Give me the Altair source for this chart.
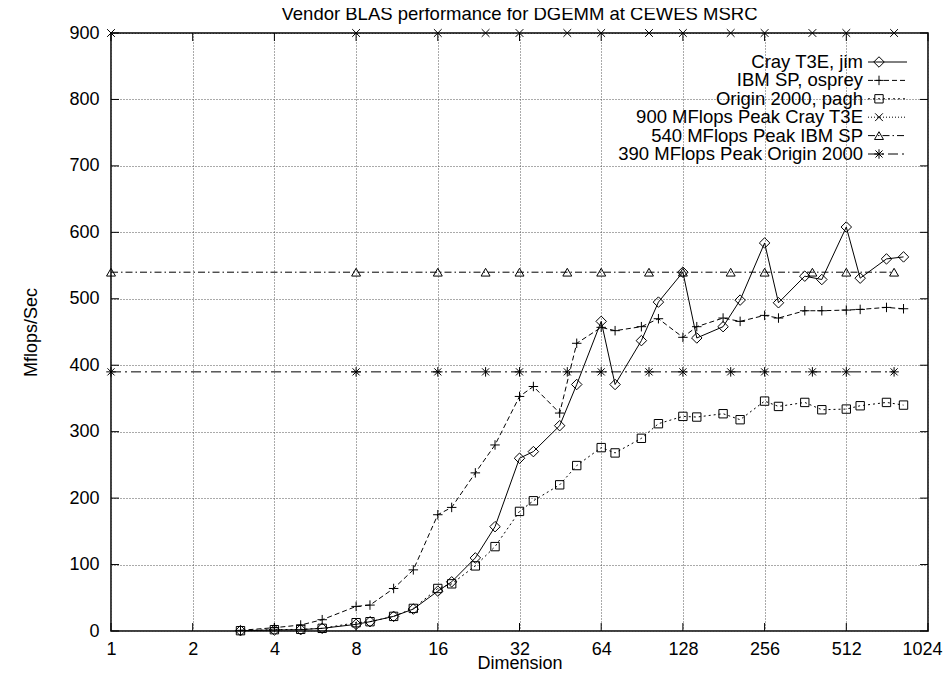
import altair as alt
import pandas as pd

FONT = "Liberation Sans"

# ---------------- data ----------------
dims = [3, 4, 5, 6, 8, 9, 11, 13, 16, 18, 22, 26, 32, 36, 45, 52, 64, 72, 90, 104,
        128, 144, 180, 208, 256, 288, 360, 416, 512, 576, 720, 832]
cray = [0.5, 1.5, 2, 4, 10, 14, 22, 33, 60, 74, 110, 157, 260, 270, 309, 371, 466, 371, 437, 495,
        540, 441, 458, 498, 584, 494, 534, 529, 608, 531, 560, 563]
ibm = [1, 5, 9, 17, 37, 39, 64, 92, 175, 186, 238, 280, 353, 368, 328, 433, 457, 452, 458, 470,
       442, 458, 471, 466, 475, 471, 482, 482, 483, 484, 487, 485]
origin = [0.5, 2, 2.5, 4, 12.5, 14, 22, 34, 64, 71, 98, 127, 180, 196, 220, 249, 276, 268, 290, 312,
          323, 322, 327, 318, 346, 338, 344, 333, 334, 339, 344, 340]
peak_dims = [1, 8, 16, 24, 32, 48, 64, 96, 128, 192, 256, 384, 512, 768]
peak_cray = [900] * len(peak_dims)
peak_ibm = [540] * len(peak_dims)
peak_origin = [390] * len(peak_dims)

x_ticks = [1, 2, 4, 8, 16, 32, 64, 128, 256, 512, 1024]
y_ticks = [0, 100, 200, 300, 400, 500, 600, 700, 800, 900]

W, H = 817, 598

PLUS = "M-1,0L1,0M0,-1L0,1"
CROSS = "M-1,-1L1,1M-1,1L1,-1"
STAR = "M-1,0L1,0M0,-1L0,1M-0.75,-0.75L0.75,0.75M-0.75,0.75L0.75,-0.75"

series = [
    ("Cray T3E, jim", dims, cray, None, "diamond", 110),
    ("IBM SP, osprey", dims, ibm, [5, 3], PLUS, 90),
    ("Origin 2000, pagh", dims, origin, [2, 3], "square", 70),
    ("900 MFlops Peak Cray T3E", peak_dims, peak_cray, [1, 2], CROSS, 60),
    ("540 MFlops Peak IBM SP", peak_dims, peak_ibm, [7, 3, 1.5, 3], "triangle-up", 80),
    ("390 MFlops Peak Origin 2000", peak_dims, peak_origin, [10, 4, 2, 4], STAR, 90),
]

xscale = alt.Scale(type="log", base=2, domain=[1, 1024], nice=False)
yscale = alt.Scale(domain=[0, 900], nice=False, zero=False)

x_axis = alt.Axis(values=x_ticks, format="d", grid=True, gridDash=[1, 2], gridColor="#555",
                  gridWidth=1, ticks=False, tickSize=0, domain=False, labelPadding=9, labelFontSize=18,
                  labelFont=FONT, labelColor="black", labelFlush=False, labelOverlap=False,
                  labelAlign={"condition": {"test": "datum.value >= 1024", "value": "right"},
                              "value": "center"},
                  labelOffset={"condition": {"test": "datum.value >= 1024", "value": 14},
                               "value": 0},
                  title="Dimension", titleFont=FONT, titleFontSize=18, titleFontWeight="normal",
                  titleColor="black", titleBaseline="alphabetic", titlePadding=10.5)
y_axis = alt.Axis(values=y_ticks, format="d", grid=True, gridDash=[1, 2], gridColor="#555",
                  gridWidth=1, ticks=False, tickSize=0, domain=False, labelPadding=12, labelFontSize=18,
                  labelFont=FONT, labelColor="black", labelFlush=False, labelOverlap=False,
                  title="Mflops/Sec", titleFont=FONT, titleFontSize=18, titleFontWeight="normal",
                  titleColor="black", titlePadding=28)

X = lambda f: alt.X(f, scale=xscale, axis=x_axis)
Y = lambda f: alt.Y(f, scale=yscale, axis=y_axis)

layers = []

# inward ticks (gnuplot style, mirrored)
xt = pd.DataFrame({"x": x_ticks})
yt = pd.DataFrame({"y": y_ticks})
tk = dict(color="black", strokeWidth=1)
layers.append(alt.Chart(xt).mark_rule(**tk).encode(
    x=X("x:Q"), y=alt.value(H), y2=alt.value(H - 8)))
layers.append(alt.Chart(xt).mark_rule(**tk).encode(
    x=X("x:Q"), y=alt.value(0), y2=alt.value(8)))
layers.append(alt.Chart(yt).mark_rule(**tk).encode(
    y=Y("y:Q"), x=alt.value(0), x2=alt.value(8)))
layers.append(alt.Chart(yt).mark_rule(**tk).encode(
    y=Y("y:Q"), x=alt.value(W), x2=alt.value(W - 8)))

# series
for name, xs, ys, dash, shape, size in series:
    df = pd.DataFrame({"dim": xs, "mflops": ys, "series": name})
    line_kw = dict(color="black", strokeWidth=1, clip=True)
    if dash:
        line_kw["strokeDash"] = dash
    enc = dict(x=X("dim:Q"), y=Y("mflops:Q"))
    layers.append(alt.Chart(df).mark_line(**line_kw).encode(**enc))
    layers.append(alt.Chart(df).mark_point(shape=shape, size=size, filled=False,
                                           color="black", strokeWidth=1, opacity=1).encode(**enc))

# legend (gnuplot key, top right inside plot)
row0, row_step = 29, 18.4
text_right, samp_l, samp_r, samp_pt = 752, 757, 796, 768
for i, (name, xs, ys, dash, shape, size) in enumerate(series):
    yy = row0 + i * row_step
    ldf = pd.DataFrame({"label": [name]})
    layers.append(alt.Chart(ldf).mark_text(align="right", baseline="middle", font=FONT,
                                           fontSize=18.5, color="black").encode(
        text="label:N", x=alt.value(text_right), y=alt.value(yy)))
    rk = dict(color="black", strokeWidth=1)
    if dash:
        rk["strokeDash"] = dash
    layers.append(alt.Chart(ldf).mark_rule(**rk).encode(
        x=alt.value(samp_l), x2=alt.value(samp_r), y=alt.value(yy)))
    layers.append(alt.Chart(ldf).mark_point(shape=shape, size=size, filled=False, color="black",
                                            strokeWidth=1, opacity=1).encode(
        x=alt.value(samp_pt), y=alt.value(yy)))

chart = alt.layer(*layers).properties(
    width=W, height=H,
    background="white",
    title=alt.TitleParams("Vendor BLAS performance for DGEMM at CEWES MSRC", font=FONT,
                          fontSize=18.5, fontWeight="normal", color="black", anchor="middle",
                          offset=1),
    autosize=alt.AutoSizeParams(type="none"),
    padding={"left": 103, "top": 25, "right": 15, "bottom": 40},
).configure_view(stroke="black", strokeWidth=1.5)

chart.save("out.html", embed_options={"renderer": "svg", "actions": False})
